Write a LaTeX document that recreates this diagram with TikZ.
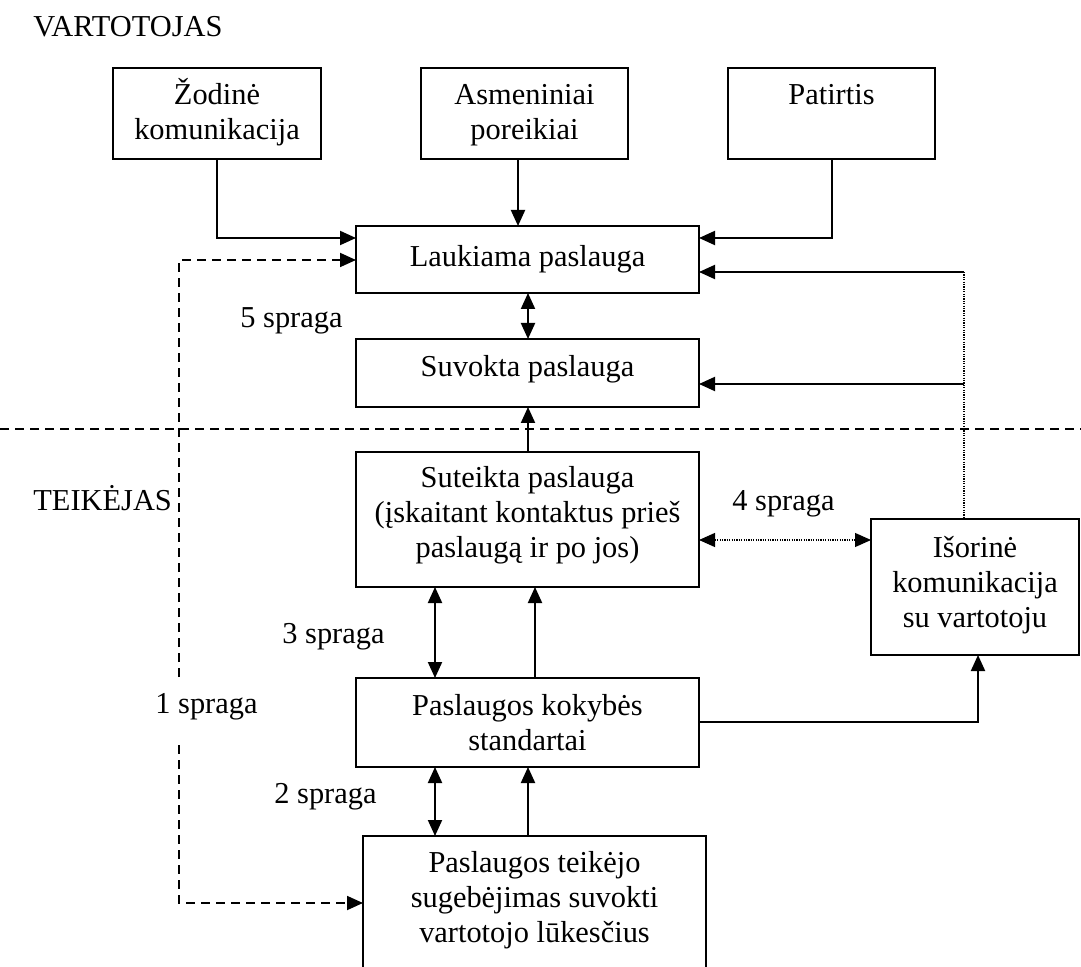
\documentclass[tikz,border=0pt]{standalone}
\usepackage{fontspec}
\setmainfont{Liberation Serif}
\usetikzlibrary{arrows.meta}
\begin{document}
\begin{tikzpicture}[x=0.5pt,y=-0.5pt,
  font=\fontsize{15.2}{17.5}\selectfont,
  tip/.tip={Triangle[length=8pt,width=7pt]},
  box/.style={draw, line width=0.9pt, inner sep=0pt, outer sep=0pt},
  txt/.style={inner sep=0pt, align=center, anchor=base},
  lbl/.style={inner sep=0pt, anchor=base west},
  arr/.style={line width=1pt, -tip},
  darr/.style={line width=1pt, tip-tip},
  dashline/.style={line width=0.9pt, dash pattern=on 4.5pt off 3pt},
  dotline/.style={line width=0.6pt, dash pattern=on 0.6pt off 0.6pt}]
\useasboundingbox (0,0) rectangle (1081,967);
\clip (0,0) rectangle (1081,967);

% group headings
\node[lbl] (vart) at (33,37) {VARTOTOJAS};
\node[lbl] (teik) at (33,510) {TEIKĖJAS};

% consumer side boxes
\node[box, minimum width=104pt, minimum height=45.5pt] (zod) at (217,113.5) {};
\node[txt] (zodt) at (217,140) {Žodinė\\komunikacija};
\node[box, minimum width=103.5pt, minimum height=45.5pt] (asm) at (524.5,113.5) {};
\node[txt] (asmt) at (524.5,140) {Asmeniniai\\poreikiai};
\node[box, minimum width=103.5pt, minimum height=45.5pt] (pat) at (831.5,113.5) {};
\node[txt] (patt) at (831.5,105) {Patirtis};
\node[box, minimum width=171.5pt, minimum height=33.5pt] (lauk) at (527.5,259.5) {};
\node[txt] (laukt) at (527.5,267) {Laukiama paslauga};
\node[box, minimum width=171.5pt, minimum height=34pt] (suv) at (527.5,373) {};
\node[txt] (suvt) at (527.5,377) {Suvokta paslauga};

% provider side boxes
\node[box, minimum width=171.5pt, minimum height=67.5pt] (sut) at (527.5,519.5) {};
\node[txt] (sutt) at (527.5,558) {Suteikta paslauga\\(įskaitant kontaktus prieš\\paslaugą ir po jos)};
\node[box, minimum width=171.5pt, minimum height=44.5pt] (std) at (527.5,722.5) {};
\node[txt] (stdt) at (527.5,750) {Paslaugos kokybės\\standartai};
\node[box, minimum width=171.5pt, minimum height=90pt] (tei) at (534.5,926) {};
\node[txt] (teit) at (534.5,942) {Paslaugos teikėjo\\sugebėjimas suvokti\\vartotojo lūkesčius};
\node[box, minimum width=104pt, minimum height=68pt] (iso) at (975,587) {};
\node[txt] (isot) at (975,627) {Išorinė\\komunikacija\\su vartotoju};

% gap labels
\node[lbl] (g5) at (240,328) {5 spraga};
\node[lbl] (g4) at (732,510) {4 spraga};
\node[lbl] (g3) at (282,643) {3 spraga};
\node[lbl] (g1) at (155,713) {1 spraga};
\node[lbl] (g2) at (274,803) {2 spraga};

% separator between consumer and provider
\coordinate (sepL) at (0,429);
\coordinate (sepR) at (1081,429);
\draw[dashline] (sepL) -- (sepR);

% inputs to the expected service
\coordinate (zb) at (217,238);
\draw[arr] (zod.south) -- (zb) -- (zb -| lauk.west);
\draw[arr] (asm.south -| 518,0) -- (lauk.north -| 518,0);
\coordinate (pb) at (832,238);
\draw[arr] (pat.south -| pb) -- (pb) -- (pb -| lauk.east);

% gap 5 and delivered -> perceived
\draw[darr] (lauk.south -| 528,0) -- (suv.north -| 528,0);
\draw[arr] (sut.north -| 528,0) -- (suv.south -| 528,0);

% external communication feedback
\coordinate (r1) at (964,272);
\coordinate (r2) at (964,384);
\draw[arr] (r1) -- (r1 -| lauk.east);
\draw[arr] (r2) -- (r2 -| suv.east);
\draw[dotline] (r1) -- (r1 |- iso.north);

% gap 4
\coordinate (g4y) at (0,540);
\draw[dotline, tip-tip] (sut.east |- g4y) -- (iso.west |- g4y);

% gap 3
\draw[darr] (sut.south -| 435,0) -- (std.north -| 435,0);
\draw[arr] (std.north -| 535,0) -- (sut.south -| 535,0);

% standards to external communication
\coordinate (sb) at (978,722);
\draw[arr] (sb -| std.east) -- (sb) -- (iso.south -| sb);

% gap 2
\draw[darr] (std.south -| 435,0) -- (tei.north -| 435,0);
\draw[arr] (tei.north -| 528,0) -- (std.south -| 528,0);

% gap 1 (dashed loop on the left)
\coordinate (d1) at (179,260);
\coordinate (d2) at (179,677);
\coordinate (d3) at (179,745);
\coordinate (d4) at (179,903);
\draw[dashline, -tip] (d2) -- (d1) -- (d1 -| lauk.west);
\draw[dashline, -tip] (d3) -- (d4) -- (d4 -| tei.west);
\end{tikzpicture}
\end{document}
